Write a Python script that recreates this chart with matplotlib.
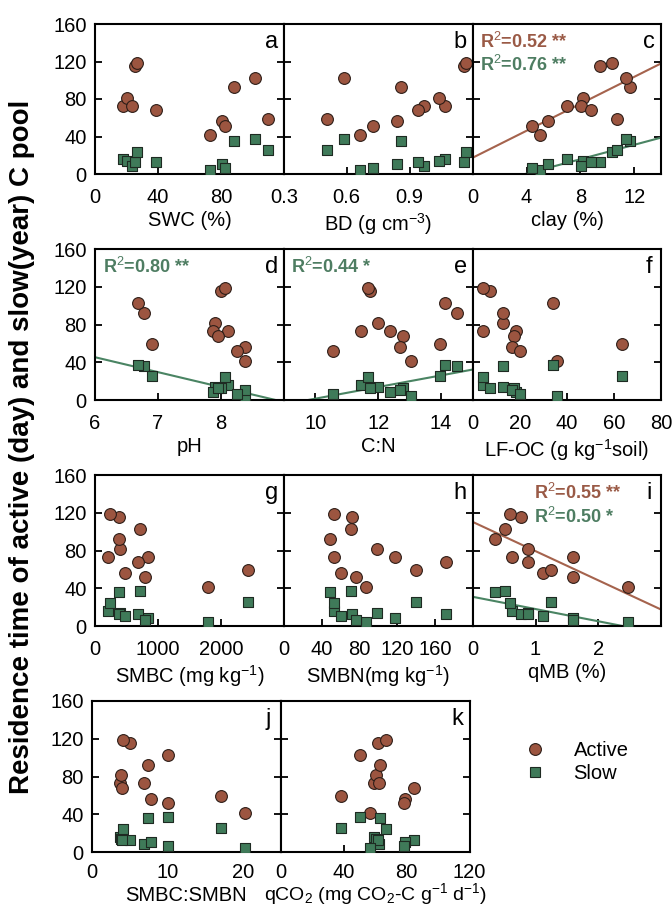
import numpy as np
import matplotlib
matplotlib.use("Agg")
import matplotlib.pyplot as plt
from matplotlib.lines import Line2D

plt.rcParams['font.family'] = ['Liberation Sans', 'DejaVu Sans']
plt.rcParams['mathtext.fontset'] = 'custom'
plt.rcParams['mathtext.rm'] = 'Liberation Sans'
plt.rcParams['mathtext.it'] = 'Liberation Sans:italic'
plt.rcParams['mathtext.bf'] = 'Liberation Sans:bold'

# ---------------- data (12 samples) ----------------
active = [73.0, 81.2, 73.0, 115.0, 118.6, 68.2, 41.8, 56.4, 51.6, 92.3, 102.3, 59.0]
slow = [16.0, 13.8, 9.0, 12.8, 24.0, 12.4, 4.3, 10.4, 6.0, 35.5, 37.5, 25.7]

swc = [17.8, 20.5, 23.4, 25.7, 26.8, 38.7, 73.2, 80.5, 82.6, 88.5, 101.7, 110.0]
bd = [1.07, 1.041, 0.969, 1.161, 1.167, 0.94, 0.662, 0.839, 0.727, 0.857, 0.585, 0.508]
clay = [6.99, 8.21, 8.01, 9.44, 10.37, 8.77, 5.02, 5.59, 4.41, 11.7, 11.4, 10.71]
ph = [8.11, 7.91, 7.87, 8.0, 8.07, 7.95, 8.39, 8.38, 8.25, 6.78, 6.68, 6.91]
cn = [11.44, 12.0, 12.37, 11.73, 11.68, 12.8, 13.04, 12.7, 10.57, 14.5, 14.11, 13.95]
lfoc = [4.25, 12.7, 18.4, 7.4, 4.25, 17.7, 35.7, 16.6, 20.1, 12.7, 34.0, 63.5]
smbc = [209, 392, 836, 381, 235, 689, 1791, 480, 799, 376, 721, 2428]
smbn = [53.7, 98.9, 117.5, 71.9, 53.3, 171.6, 87.4, 60.4, 76.1, 48.8, 70.9, 140.0]
qmb = [0.619, 0.88, 1.589, 0.773, 0.592, 0.88, 2.47, 1.12, 1.589, 0.363, 0.512, 1.243]
cn_mb = [3.65, 3.86, 6.95, 5.02, 4.16, 3.95, 20.2, 7.81, 10.09, 7.38, 10.0, 17.1]
qco2 = [59.4, 60.4, 62.1, 61.7, 66.7, 84.8, 56.7, 79.2, 78.1, 63.1, 50.6, 38.1]

xlabels = ['SWC (%)', 'BD (g cm$^{-3}$)', 'clay (%)', 'pH', 'C:N',
           'LF-OC (g kg$^{-1}$soil)', 'SMBC (mg kg$^{-1}$)', 'SMBN(mg kg$^{-1}$)',
           'qMB (%)', 'SMBC:SMBN', 'qCO$_2$ (mg CO$_2$-C g$^{-1}$ d$^{-1}$)']
letters = ['a', 'b', 'c', 'd', 'e', 'f', 'g', 'h', 'i', 'j', 'k']
xdata = [swc, bd, clay, ph, cn, lfoc, smbc, smbn, qmb, cn_mb, qco2]
xlims = [(0, 120), (0.3, 1.2), (0, 14), (6, 9), (9, 15), (0, 80),
         (0, 3000), (0, 200), (0, 3), (0, 25), (0, 120)]
xticks = [[0, 40, 80], [0.3, 0.6, 0.9], [0, 4, 8, 12], [6, 7, 8], [10, 12, 14],
          [0, 20, 40, 60, 80], [0, 1000, 2000], [0, 40, 80, 120, 160], [0, 1, 2],
          [0, 10, 20], [0, 40, 80, 120]]
yticks = [0, 40, 80, 120, 160]

# regression annotations: panel index -> list of (series, text)
r2_text = {2: [('active', 'R$^2$=0.52 **'), ('slow', 'R$^2$=0.76 **')],
           3: [('slow', 'R$^2$=0.80 **')],
           4: [('slow', 'R$^2$=0.44 *')],
           8: [('active', 'R$^2$=0.55 **'), ('slow', 'R$^2$=0.50 *')]}

C_ACT = '#9c5540'
C_SLOW = '#3f7a59'
L_ACT = '#a5634d'
L_SLOW = '#4a8463'
T_ACT = '#9a5a46'
T_SLOW = '#4e7d62'

W, H = 672, 909
fig = plt.figure(figsize=(W / 100, H / 100), dpi=100)

rows = [(24, 174), (249, 400), (475, 626), (701, 852)]
colw = 188.8
FS = 14.5


def axes_at(x0, y_top, y_bot, w):
    return fig.add_axes([x0 / W, 1 - y_bot / H, w / W, (y_bot - y_top) / H])


for i in range(11):
    r, c = divmod(i, 3)
    x0 = (92 if r == 3 else 95) + c * colw
    yt, yb = rows[r]
    ax = axes_at(x0, yt, yb, colw)
    x = np.array(xdata[i], dtype=float)
    ax.scatter(x, active, s=72, marker='o', facecolor=C_ACT, edgecolor='#2e1e18',
               linewidth=0.8, zorder=3)
    ax.scatter(x, slow, s=52, marker='s', facecolor=C_SLOW, edgecolor='#1e2a22',
               linewidth=0.8, zorder=4)
    if i in r2_text:
        xx = np.linspace(xlims[i][0], xlims[i][1], 200)
        for k, (ser, txt) in enumerate(r2_text[i]):
            yv = np.array(active if ser == 'active' else slow)
            p = np.polyfit(x, yv, 1)
            ax.plot(xx, np.polyval(p, xx), color=L_ACT if ser == 'active' else L_SLOW,
                    lw=1.5, zorder=2)
            tx = 0.04 if i != 8 else 0.325
            ax.text(tx, 0.88 - 0.155 * k, txt, transform=ax.transAxes,
                    color=T_ACT if ser == 'active' else T_SLOW, fontsize=13,
                    fontweight='bold', ha='left', va='center')
    ax.set_xlim(*xlims[i])
    ax.set_ylim(0, 160)
    ax.set_xticks(xticks[i])
    ax.set_xticklabels([('%g' % t) for t in xticks[i]])
    ax.set_yticks(yticks)
    ax.tick_params(axis='both', direction='in', length=5, width=1.3, labelsize=FS,
                   right=True, top=False)
    ax.tick_params(axis='x', pad=8 if r == 3 else 10)
    ax.tick_params(axis='y', pad=6)
    if c != 0:
        ax.set_yticklabels([])
    for s in ax.spines.values():
        s.set_linewidth(1.5)
    if i == 10:
        ax.set_xlabel(xlabels[i], fontsize=14, labelpad=-1)
    elif r == 3:
        ax.set_xlabel(xlabels[i], fontsize=FS, labelpad=3)
    else:
        ax.set_xlabel(xlabels[i], fontsize=FS, labelpad=3)
    ax.text(0.935, 0.88, letters[i], transform=ax.transAxes, fontsize=17,
            ha='center', va='center')

fig.text(22 / W, 0.508, 'Residence time of active (day) and slow(year) C pool',
         rotation=90, fontsize=20, fontweight='bold', ha='center', va='center')

handles = [Line2D([], [], marker='o', ls='none', markersize=8.5, markerfacecolor=C_ACT,
                  markeredgecolor='#2e1e18', markeredgewidth=0.8),
           Line2D([], [], marker='s', ls='none', markersize=7, markerfacecolor=C_SLOW,
                  markeredgecolor='#1e2a22', markeredgewidth=0.8)]
fig.legend(handles, ['Active', 'Slow'], loc='upper left',
           bbox_to_anchor=(497 / W, 1 - 723 / H), frameon=False, fontsize=FS,
           handletextpad=0.9, labelspacing=0.2)

fig.savefig('out.png', dpi=100)
